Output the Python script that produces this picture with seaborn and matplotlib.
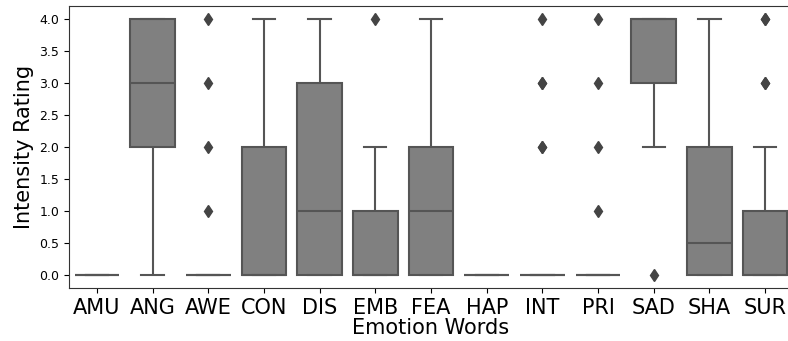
import numpy as np
import pandas as pd
import matplotlib
matplotlib.use("Agg")
import matplotlib.pyplot as plt
import seaborn as sns

categories = ["AMU", "ANG", "AWE", "CON", "DIS", "EMB", "FEA", "HAP", "INT", "PRI", "SAD", "SHA", "SUR"]

amu = [0, 0, 0, 0, 0, 0, 0, 0, 0, 0]
ang = [0, 2, 2, 3, 3, 4, 4, 4]
awe = [0] * 16 + [1, 2, 3, 4]
con = [0, 0, 0, 0, 0, 1, 2, 2, 4]
dis = [0, 0, 0, 1, 1, 2, 3, 3, 4]
emb = [0, 0, 0, 0, 0, 1, 1, 2, 4]
fea = [0, 0, 0, 1, 1, 2, 2, 3, 4]
hap = [0, 0, 0, 0, 0, 0, 0, 0, 0, 0]
int_ = [0] * 18 + [2, 2, 3, 3, 4]
pri = [0] * 16 + [1, 2, 3, 4]
sad = [0, 2, 3, 3, 4, 4, 4, 4, 4]
sha = [0, 0, 0, 0, 0, 1, 2, 2, 3, 4]
sur = [0] * 12 + [1] * 5 + [2, 3, 3, 4, 4]

series = [amu, ang, awe, con, dis, emb, fea, hap, int_, pri, sad, sha, sur]

rows = []
for cat, vals in zip(categories, series):
    for v in vals:
        rows.append({"Emotion Words": cat, "Intensity Rating": v})
df = pd.DataFrame(rows)

fig = plt.figure(figsize=(7.88, 3.41), dpi=100)
ax = fig.add_axes([69 / 788, 53 / 341, 724 / 788, 282 / 341])

sns.boxplot(
    data=df, x="Emotion Words", y="Intensity Rating", order=categories,
    color="gray", linecolor="#555555", linewidth=1.5, width=0.8, ax=ax,
    flierprops=dict(marker="d", markerfacecolor="#444444", markeredgecolor="#444444", markersize=6),
)

ax.set_ylim(-0.2, 4.2)
ax.set_xlim(-0.5, 12.5)
ax.set_yticks(np.arange(0, 4.01, 0.5))
ax.set_yticklabels([f"{t:.1f}" for t in np.arange(0, 4.01, 0.5)], fontsize=9)
ax.tick_params(axis="x", labelsize=15)
ax.set_xlabel("Emotion Words", fontsize=15, labelpad=0)
ax.set_ylabel("Intensity Rating", fontsize=15)
for s in ax.spines.values():
    s.set_visible(True)
    s.set_color("#333333")
ax.spines["right"].set_visible(False)

fig.savefig("out.png", dpi=100)
